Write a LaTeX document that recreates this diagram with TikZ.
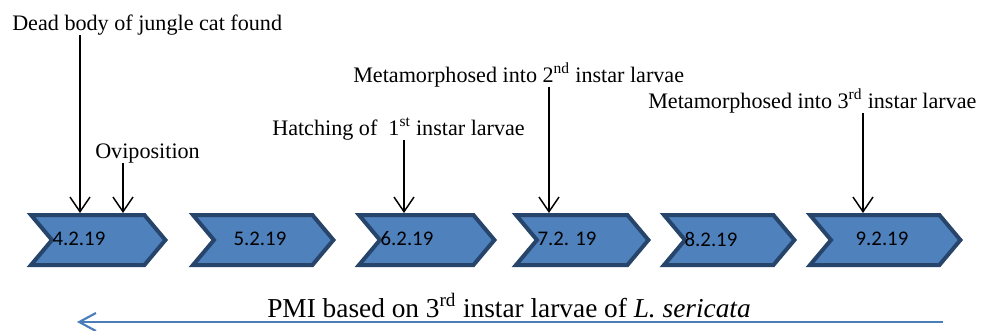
\documentclass[tikz,border=0pt]{standalone}
\usepackage{xcolor}
\usepackage{fontspec}
\setmainfont{Liberation Serif}
\newfontfamily\datefont{Carlito}
\usepackage{tikz}
\usetikzlibrary{arrows.meta, shapes.symbols, positioning}
\definecolor{dayfill}{HTML}{4F81BD}
\definecolor{dayedge}{HTML}{27446A}
\definecolor{pmiblue}{HTML}{4A7EBB}
\tikzset{
    daybox/.style={signal, signal to=east, signal from=west, signal pointer angle=100, fill=dayfill, draw=dayedge, line width=3pt, minimum height=37.5pt, inner sep=0pt},
    datelbl/.style={font=\datefont\fontsize{15.6}{18}\selectfont, inner sep=0pt},
    event/.style={font=\fontsize{16.6}{20}\selectfont, inner sep=0pt, anchor=base west},
    evt/.style={-{Straight Barb[length=11pt, width=15pt]}, line width=1.1pt, black},
    pmi/.style={font=\fontsize{20.5}{24}\selectfont, inner sep=0pt, anchor=base west},
    pmiarrow/.style={-{Straight Barb[length=12.5pt, width=13.5pt]}, line width=1.6pt, pmiblue}
}

\begin{document}
\begin{tikzpicture}[x=0.75pt, y=-0.75pt]
    \useasboundingbox (0,0) rectangle (982,330);

    % Day chevrons
    \node[daybox, minimum width=100.8pt] (d1) at (98.2,240) {};
    \node[daybox, minimum width=105.3pt] (d2) at (263.2,240) {};
    \node[daybox, minimum width=101.6pt] (d3) at (426.7,240) {};
    \node[daybox, minimum width=99.3pt] (d4) at (582.2,240) {};
    \node[daybox, minimum width=97.8pt] (d5) at (729.2,240) {};
    \node[daybox, minimum width=112.8pt] (d6) at (885.2,240) {};

    % Dates
    \node[datelbl] (t1) at (79,239) {4.2.19};
    \node[datelbl] (t2) at (260,239) {5.2.19};
    \node[datelbl] (t3) at (407,239) {6.2.19};
    \node[datelbl] (t4) at (567,239) {7.2. 19};
    \node[datelbl] (t5) at (711,239) {8.2.19};
    \node[datelbl] (t6) at (882,239) {9.2.19};

    % Events
    \node[event] (dead) at (12,30) {Dead body of jungle cat found};
    \node[event] (ovi) at (95,158) {Oviposition};
    \node[event] (hatch) at (272,135) {Hatching of\ \ 1\textsuperscript{st} instar larvae};
    \node[event] (meta2) at (353,82) {Metamorphosed into 2\textsuperscript{nd} instar larvae};
    \node[event] (meta3) at (648,108) {Metamorphosed into 3\textsuperscript{rd} instar larvae};

    % Arrow positions
    \coordinate (x1) at (80,0);
    \coordinate (x2) at (123,0);
    \coordinate (x3) at (404,0);
    \coordinate (x4) at (549,0);
    \coordinate (x5) at (863,0);

    \draw[evt] (dead.south -| x1) -- (d1.north -| x1);
    \draw[evt] (ovi.south -| x2) -- (d1.north -| x2);
    \draw[evt] (hatch.south -| x3) -- (d3.north -| x3);
    \draw[evt] (meta2.south -| x4) -- (d4.north -| x4);
    \draw[evt] (meta3.south -| x5) -- (d6.north -| x5);

    % PMI
    \node[pmi] (pmitext) at (267,317) {PMI based on 3\textsuperscript{rd} instar larvae of \textit{L. sericata}};
    \coordinate (pmiR) at (943,322);
    \coordinate (pmiL) at (77,322);
    \draw[pmiarrow] (pmiR) -- (pmiL);
\end{tikzpicture}
\end{document}
